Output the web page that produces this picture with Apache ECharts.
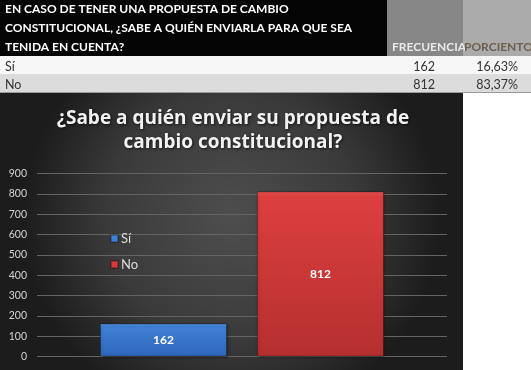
<!DOCTYPE html>
<html><head><meta charset="utf-8">
<script src="https://cdn.jsdelivr.net/npm/echarts@6/dist/echarts.min.js"></script>
<style>html,body{margin:0;padding:0;background:#fff}#c{width:531px;height:370px}</style>
</head><body><div id="c"></div>
<script>
// Data
const headerLines = ['EN CASO DE TENER UNA PROPUESTA DE CAMBIO', 'CONSTITUCIONAL, ¿SABE A QUIÉN ENVIARLA PARA QUE SEA', 'TENIDA EN CUENTA?'];
const columnHeads = ['FRECUENCIA', 'PORCIENTO'];
const answers = ['Sí', 'No'];
const frequencies = [162, 812];
const percents = ['16,63%', '83,37%'];
const chartTitle = '¿Sabe a quién enviar su propuesta de\ncambio constitucional?';
const yTicks = { min: 0, max: 900, interval: 100 };

const chart = echarts.init(document.getElementById('c'), null, { renderer: 'canvas' });

const FONT = 'Lato';
const graphics = [];
// header backgrounds
graphics.push({ type: 'rect', shape: { x: 0, y: 0, width: 387, height: 56 }, style: { fill: '#050505' }, z: -10 });
graphics.push({ type: 'rect', shape: { x: 387, y: 0, width: 76, height: 56 }, style: { fill: '#878787' }, z: -10 });
graphics.push({ type: 'rect', shape: { x: 463, y: 0, width: 68, height: 56 }, style: { fill: '#ababab' }, z: -10 });
// rows
graphics.push({ type: 'rect', shape: { x: 0, y: 56, width: 531, height: 18 }, style: { fill: '#f7f7f7' }, z: -10 });
graphics.push({ type: 'rect', shape: { x: 0, y: 74, width: 531, height: 18 }, style: { fill: '#dcdcdc' }, z: -10 });
graphics.push({ type: 'rect', shape: { x: 0, y: 92, width: 531, height: 1 }, style: { fill: '#9a9a9a' }, z: -10 });
// chart background
graphics.push({ type: 'rect', shape: { x: 0, y: 93, width: 463, height: 277 },
  style: { fill: new echarts.graphic.RadialGradient(0.5, 0.45, 0.75, [
    { offset: 0, color: '#4e4e4e' }, { offset: 0.6, color: '#3a3a3a' }, { offset: 1, color: '#1c1c1c' }]) }, z: -10 });
// header text
headerLines.forEach((t, i) => {
  graphics.push({ type: 'text', x: 5, y: 9 + i * 19, style: { text: t, fill: '#ffffff', font: `bold 12px ${FONT}`, verticalAlign: 'middle' } });
});
graphics.push({ type: 'text', x: 392, y: 47, style: { text: columnHeads[0], fill: '#e8e8e8', font: `bold 12px ${FONT}`, verticalAlign: 'middle' } });
graphics.push({ type: 'text', x: 464, y: 47, style: { text: columnHeads[1], fill: '#6e5e50', font: `bold 12px ${FONT}`, verticalAlign: 'middle' } });
answers.forEach((a, i) => {
  const y = 66.5 + i * 18.5;
  graphics.push({ type: 'text', x: 5, y, style: { text: a, fill: '#333', font: `12.5px ${FONT}`, verticalAlign: 'middle' } });
  graphics.push({ type: 'text', x: 435, y, style: { text: String(frequencies[i]), fill: '#333', font: `12.5px ${FONT}`, align: 'right', verticalAlign: 'middle' } });
  graphics.push({ type: 'text', x: 518, y, style: { text: percents[i], fill: '#333', font: `12.5px ${FONT}`, align: 'right', verticalAlign: 'middle' } });
});

const colors = [
  new echarts.graphic.LinearGradient(0, 0, 0, 1, [{ offset: 0, color: '#5a9ae6' }, { offset: 0.08, color: '#3f80d6' }, { offset: 1, color: '#2e67b8' }]),
  new echarts.graphic.LinearGradient(0, 0, 0, 1, [{ offset: 0, color: '#e85252' }, { offset: 0.03, color: '#dd3f3f' }, { offset: 1, color: '#b52f2f' }])
];
const legendColors = ['#3f80d6', '#d63a3a'];

chart.setOption({
  backgroundColor: '#ffffff',
  animation: false,
  graphic: graphics,
  title: {
    text: chartTitle, left: 228, textAlign: 'center', top: 102,
    textStyle: { color: '#f2f2f2', fontFamily: 'Open Sans', fontWeight: 'bold', fontSize: 19, lineHeight: 24,
      textShadowColor: 'rgba(0,0,0,0.7)', textShadowBlur: 3, textShadowOffsetX: 1, textShadowOffsetY: 1 }
  },
  legend: {
    orient: 'vertical', left: 110, top: 232, padding: 0, itemWidth: 7, itemHeight: 7, itemGap: 13, icon: 'rect',
    textStyle: { color: '#dcdcdc', fontFamily: FONT, fontSize: 13, padding: [0, 0, 0, -2] },
    data: answers.map((a, i) => ({ name: a, itemStyle: { color: legendColors[i] } }))
  },
  grid: { left: 37, right: 84, top: 173.5, bottom: 13.5 },
  xAxis: { type: 'category', data: [''], axisLine: { show: false }, axisTick: { show: false }, axisLabel: { show: false } },
  yAxis: { type: 'value', min: yTicks.min, max: yTicks.max, interval: yTicks.interval,
    axisLabel: { color: '#d4d4d4', fontFamily: FONT, fontSize: 10.5, margin: 10 },
    splitLine: { lineStyle: { color: '#646464', width: 1 } }, axisLine: { show: false }, axisTick: { show: false } },
  series: answers.map((a, i) => ({
    name: a, type: 'bar', data: [frequencies[i]], barWidth: 127, barGap: '23.6%',
    itemStyle: { color: colors[i], borderColor: 'rgba(0,0,0,0.25)', borderWidth: 1, shadowColor: 'rgba(0,0,0,0.5)', shadowBlur: 3, shadowOffsetX: 1, shadowOffsetY: 1 },
    label: { show: true, position: 'inside', color: '#ffffff', fontFamily: FONT, fontWeight: 'bold', fontSize: 12 }
  }))
});
</script></body></html>
